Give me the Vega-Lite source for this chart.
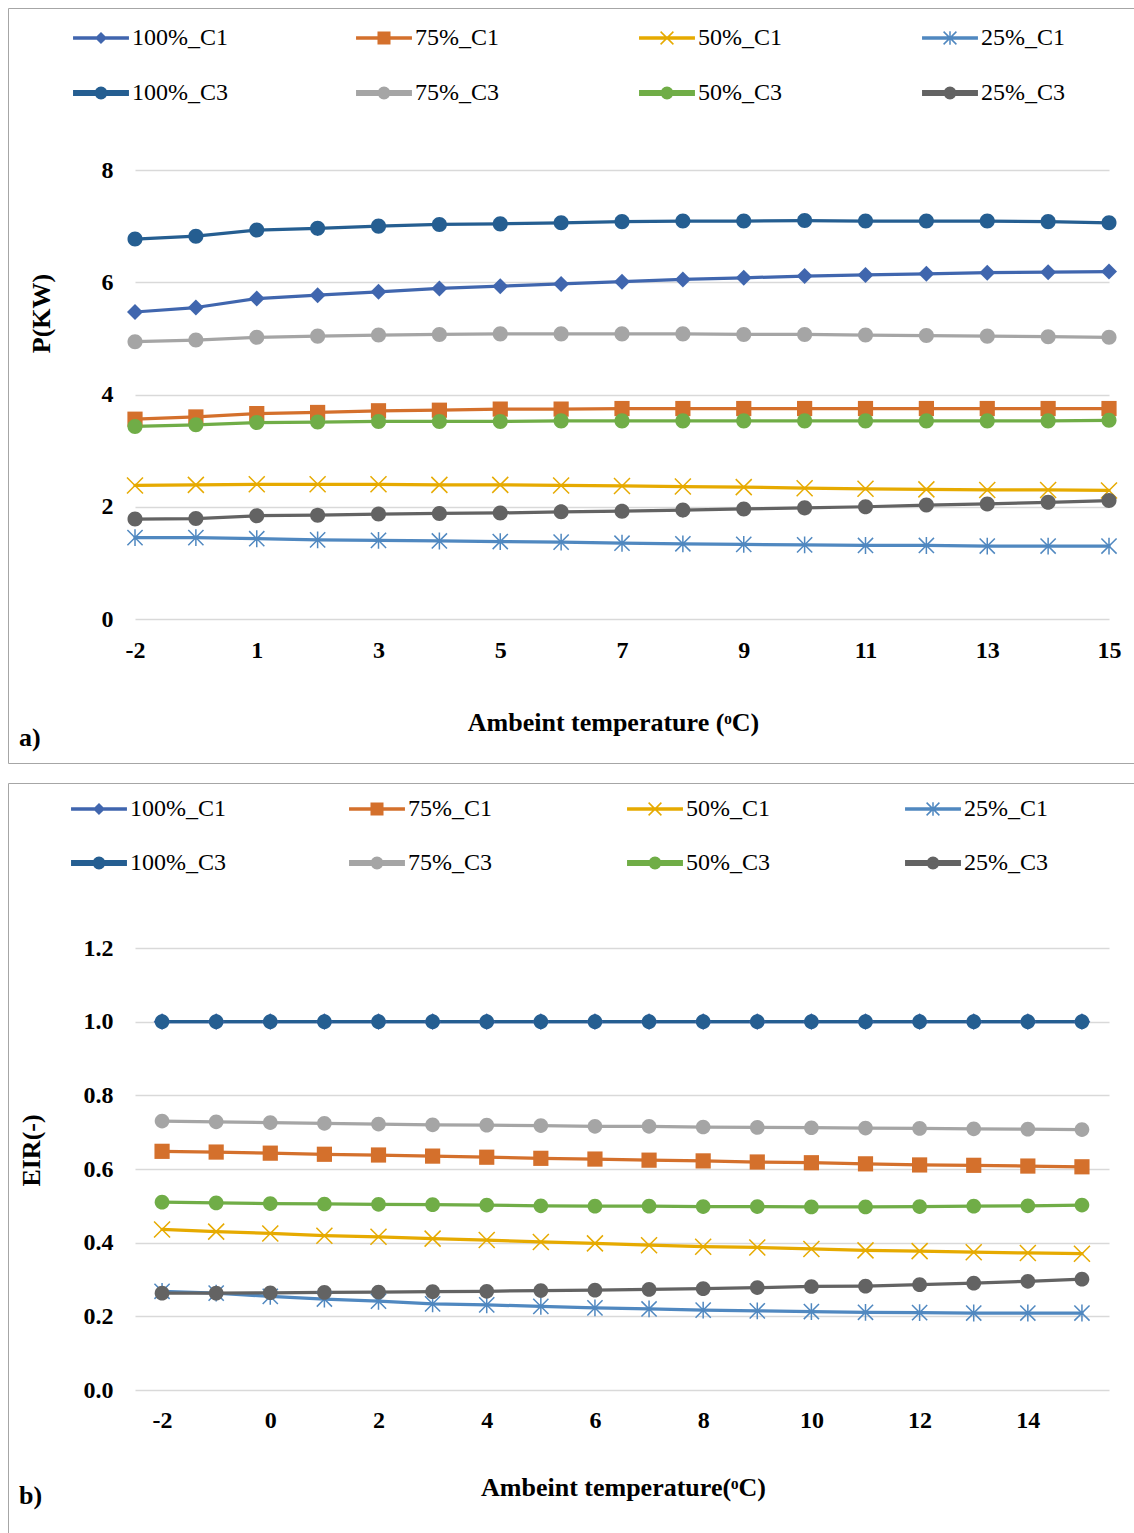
{
"$schema": "https://vega.github.io/schema/vega-lite/v6.json",
"background": "white",
"padding": {"left": 7, "top": 7, "right": 0, "bottom": 0},
"spacing": 18,
"datasets": {
"a": [
{"T":-2,"s":"100%_C1","v":5.47},{"T":-1,"s":"100%_C1","v":5.55},{"T":1,"s":"100%_C1","v":5.71},{"T":2,"s":"100%_C1","v":5.77},{"T":3,"s":"100%_C1","v":5.83},{"T":4,"s":"100%_C1","v":5.89},{"T":5,"s":"100%_C1","v":5.93},{"T":6,"s":"100%_C1","v":5.97},{"T":7,"s":"100%_C1","v":6.01},{"T":8,"s":"100%_C1","v":6.05},{"T":9,"s":"100%_C1","v":6.08},{"T":10,"s":"100%_C1","v":6.11},{"T":11,"s":"100%_C1","v":6.13},{"T":12,"s":"100%_C1","v":6.15},{"T":13,"s":"100%_C1","v":6.17},{"T":14,"s":"100%_C1","v":6.18},{"T":15,"s":"100%_C1","v":6.19},
{"T":-2,"s":"75%_C1","v":3.56},{"T":-1,"s":"75%_C1","v":3.60},{"T":1,"s":"75%_C1","v":3.66},{"T":2,"s":"75%_C1","v":3.68},{"T":3,"s":"75%_C1","v":3.71},{"T":4,"s":"75%_C1","v":3.72},{"T":5,"s":"75%_C1","v":3.74},{"T":6,"s":"75%_C1","v":3.74},{"T":7,"s":"75%_C1","v":3.75},{"T":8,"s":"75%_C1","v":3.75},{"T":9,"s":"75%_C1","v":3.75},{"T":10,"s":"75%_C1","v":3.75},{"T":11,"s":"75%_C1","v":3.75},{"T":12,"s":"75%_C1","v":3.75},{"T":13,"s":"75%_C1","v":3.75},{"T":14,"s":"75%_C1","v":3.75},{"T":15,"s":"75%_C1","v":3.75},
{"T":-2,"s":"50%_C1","v":2.38},{"T":-1,"s":"50%_C1","v":2.39},{"T":1,"s":"50%_C1","v":2.40},{"T":2,"s":"50%_C1","v":2.40},{"T":3,"s":"50%_C1","v":2.40},{"T":4,"s":"50%_C1","v":2.39},{"T":5,"s":"50%_C1","v":2.39},{"T":6,"s":"50%_C1","v":2.38},{"T":7,"s":"50%_C1","v":2.37},{"T":8,"s":"50%_C1","v":2.36},{"T":9,"s":"50%_C1","v":2.35},{"T":10,"s":"50%_C1","v":2.33},{"T":11,"s":"50%_C1","v":2.32},{"T":12,"s":"50%_C1","v":2.31},{"T":13,"s":"50%_C1","v":2.30},{"T":14,"s":"50%_C1","v":2.30},{"T":15,"s":"50%_C1","v":2.29},
{"T":-2,"s":"25%_C1","v":1.45},{"T":-1,"s":"25%_C1","v":1.45},{"T":1,"s":"25%_C1","v":1.43},{"T":2,"s":"25%_C1","v":1.41},{"T":3,"s":"25%_C1","v":1.40},{"T":4,"s":"25%_C1","v":1.39},{"T":5,"s":"25%_C1","v":1.38},{"T":6,"s":"25%_C1","v":1.37},{"T":7,"s":"25%_C1","v":1.35},{"T":8,"s":"25%_C1","v":1.34},{"T":9,"s":"25%_C1","v":1.33},{"T":10,"s":"25%_C1","v":1.32},{"T":11,"s":"25%_C1","v":1.31},{"T":12,"s":"25%_C1","v":1.31},{"T":13,"s":"25%_C1","v":1.30},{"T":14,"s":"25%_C1","v":1.30},{"T":15,"s":"25%_C1","v":1.30},
{"T":-2,"s":"100%_C3","v":6.77},{"T":-1,"s":"100%_C3","v":6.82},{"T":1,"s":"100%_C3","v":6.93},{"T":2,"s":"100%_C3","v":6.96},{"T":3,"s":"100%_C3","v":7.00},{"T":4,"s":"100%_C3","v":7.03},{"T":5,"s":"100%_C3","v":7.04},{"T":6,"s":"100%_C3","v":7.06},{"T":7,"s":"100%_C3","v":7.08},{"T":8,"s":"100%_C3","v":7.09},{"T":9,"s":"100%_C3","v":7.09},{"T":10,"s":"100%_C3","v":7.10},{"T":11,"s":"100%_C3","v":7.09},{"T":12,"s":"100%_C3","v":7.09},{"T":13,"s":"100%_C3","v":7.09},{"T":14,"s":"100%_C3","v":7.08},{"T":15,"s":"100%_C3","v":7.06},
{"T":-2,"s":"75%_C3","v":4.94},{"T":-1,"s":"75%_C3","v":4.97},{"T":1,"s":"75%_C3","v":5.02},{"T":2,"s":"75%_C3","v":5.04},{"T":3,"s":"75%_C3","v":5.06},{"T":4,"s":"75%_C3","v":5.07},{"T":5,"s":"75%_C3","v":5.08},{"T":6,"s":"75%_C3","v":5.08},{"T":7,"s":"75%_C3","v":5.08},{"T":8,"s":"75%_C3","v":5.08},{"T":9,"s":"75%_C3","v":5.07},{"T":10,"s":"75%_C3","v":5.07},{"T":11,"s":"75%_C3","v":5.06},{"T":12,"s":"75%_C3","v":5.05},{"T":13,"s":"75%_C3","v":5.04},{"T":14,"s":"75%_C3","v":5.03},{"T":15,"s":"75%_C3","v":5.02},
{"T":-2,"s":"50%_C3","v":3.43},{"T":-1,"s":"50%_C3","v":3.46},{"T":1,"s":"50%_C3","v":3.50},{"T":2,"s":"50%_C3","v":3.51},{"T":3,"s":"50%_C3","v":3.52},{"T":4,"s":"50%_C3","v":3.52},{"T":5,"s":"50%_C3","v":3.52},{"T":6,"s":"50%_C3","v":3.53},{"T":7,"s":"50%_C3","v":3.53},{"T":8,"s":"50%_C3","v":3.53},{"T":9,"s":"50%_C3","v":3.53},{"T":10,"s":"50%_C3","v":3.53},{"T":11,"s":"50%_C3","v":3.53},{"T":12,"s":"50%_C3","v":3.53},{"T":13,"s":"50%_C3","v":3.53},{"T":14,"s":"50%_C3","v":3.53},{"T":15,"s":"50%_C3","v":3.54},
{"T":-2,"s":"25%_C3","v":1.78},{"T":-1,"s":"25%_C3","v":1.79},{"T":1,"s":"25%_C3","v":1.84},{"T":2,"s":"25%_C3","v":1.85},{"T":3,"s":"25%_C3","v":1.87},{"T":4,"s":"25%_C3","v":1.88},{"T":5,"s":"25%_C3","v":1.89},{"T":6,"s":"25%_C3","v":1.91},{"T":7,"s":"25%_C3","v":1.92},{"T":8,"s":"25%_C3","v":1.94},{"T":9,"s":"25%_C3","v":1.96},{"T":10,"s":"25%_C3","v":1.98},{"T":11,"s":"25%_C3","v":2.00},{"T":12,"s":"25%_C3","v":2.03},{"T":13,"s":"25%_C3","v":2.05},{"T":14,"s":"25%_C3","v":2.08},{"T":15,"s":"25%_C3","v":2.11}
],
"b": [
{"T":-2,"s":"100%_C1","v":1.0},{"T":-1,"s":"100%_C1","v":1.0},{"T":0,"s":"100%_C1","v":1.0},{"T":1,"s":"100%_C1","v":1.0},{"T":2,"s":"100%_C1","v":1.0},{"T":3,"s":"100%_C1","v":1.0},{"T":4,"s":"100%_C1","v":1.0},{"T":5,"s":"100%_C1","v":1.0},{"T":6,"s":"100%_C1","v":1.0},{"T":7,"s":"100%_C1","v":1.0},{"T":8,"s":"100%_C1","v":1.0},{"T":9,"s":"100%_C1","v":1.0},{"T":10,"s":"100%_C1","v":1.0},{"T":11,"s":"100%_C1","v":1.0},{"T":12,"s":"100%_C1","v":1.0},{"T":13,"s":"100%_C1","v":1.0},{"T":14,"s":"100%_C1","v":1.0},{"T":15,"s":"100%_C1","v":1.0},
{"T":-2,"s":"75%_C1","v":0.648},{"T":-1,"s":"75%_C1","v":0.646},{"T":0,"s":"75%_C1","v":0.643},{"T":1,"s":"75%_C1","v":0.640},{"T":2,"s":"75%_C1","v":0.638},{"T":3,"s":"75%_C1","v":0.635},{"T":4,"s":"75%_C1","v":0.632},{"T":5,"s":"75%_C1","v":0.629},{"T":6,"s":"75%_C1","v":0.627},{"T":7,"s":"75%_C1","v":0.624},{"T":8,"s":"75%_C1","v":0.622},{"T":9,"s":"75%_C1","v":0.619},{"T":10,"s":"75%_C1","v":0.617},{"T":11,"s":"75%_C1","v":0.614},{"T":12,"s":"75%_C1","v":0.611},{"T":13,"s":"75%_C1","v":0.610},{"T":14,"s":"75%_C1","v":0.608},{"T":15,"s":"75%_C1","v":0.606},
{"T":-2,"s":"50%_C1","v":0.436},{"T":-1,"s":"50%_C1","v":0.430},{"T":0,"s":"50%_C1","v":0.425},{"T":1,"s":"50%_C1","v":0.419},{"T":2,"s":"50%_C1","v":0.416},{"T":3,"s":"50%_C1","v":0.411},{"T":4,"s":"50%_C1","v":0.407},{"T":5,"s":"50%_C1","v":0.402},{"T":6,"s":"50%_C1","v":0.398},{"T":7,"s":"50%_C1","v":0.393},{"T":8,"s":"50%_C1","v":0.389},{"T":9,"s":"50%_C1","v":0.387},{"T":10,"s":"50%_C1","v":0.383},{"T":11,"s":"50%_C1","v":0.379},{"T":12,"s":"50%_C1","v":0.377},{"T":13,"s":"50%_C1","v":0.374},{"T":14,"s":"50%_C1","v":0.372},{"T":15,"s":"50%_C1","v":0.370},
{"T":-2,"s":"25%_C1","v":0.268},{"T":-1,"s":"25%_C1","v":0.263},{"T":0,"s":"25%_C1","v":0.254},{"T":1,"s":"25%_C1","v":0.247},{"T":2,"s":"25%_C1","v":0.241},{"T":3,"s":"25%_C1","v":0.234},{"T":4,"s":"25%_C1","v":0.231},{"T":5,"s":"25%_C1","v":0.227},{"T":6,"s":"25%_C1","v":0.223},{"T":7,"s":"25%_C1","v":0.220},{"T":8,"s":"25%_C1","v":0.217},{"T":9,"s":"25%_C1","v":0.215},{"T":10,"s":"25%_C1","v":0.213},{"T":11,"s":"25%_C1","v":0.211},{"T":12,"s":"25%_C1","v":0.210},{"T":13,"s":"25%_C1","v":0.209},{"T":14,"s":"25%_C1","v":0.209},{"T":15,"s":"25%_C1","v":0.209},
{"T":-2,"s":"100%_C3","v":1.0},{"T":-1,"s":"100%_C3","v":1.0},{"T":0,"s":"100%_C3","v":1.0},{"T":1,"s":"100%_C3","v":1.0},{"T":2,"s":"100%_C3","v":1.0},{"T":3,"s":"100%_C3","v":1.0},{"T":4,"s":"100%_C3","v":1.0},{"T":5,"s":"100%_C3","v":1.0},{"T":6,"s":"100%_C3","v":1.0},{"T":7,"s":"100%_C3","v":1.0},{"T":8,"s":"100%_C3","v":1.0},{"T":9,"s":"100%_C3","v":1.0},{"T":10,"s":"100%_C3","v":1.0},{"T":11,"s":"100%_C3","v":1.0},{"T":12,"s":"100%_C3","v":1.0},{"T":13,"s":"100%_C3","v":1.0},{"T":14,"s":"100%_C3","v":1.0},{"T":15,"s":"100%_C3","v":1.0},
{"T":-2,"s":"75%_C3","v":0.730},{"T":-1,"s":"75%_C3","v":0.728},{"T":0,"s":"75%_C3","v":0.726},{"T":1,"s":"75%_C3","v":0.724},{"T":2,"s":"75%_C3","v":0.722},{"T":3,"s":"75%_C3","v":0.720},{"T":4,"s":"75%_C3","v":0.719},{"T":5,"s":"75%_C3","v":0.718},{"T":6,"s":"75%_C3","v":0.716},{"T":7,"s":"75%_C3","v":0.716},{"T":8,"s":"75%_C3","v":0.714},{"T":9,"s":"75%_C3","v":0.713},{"T":10,"s":"75%_C3","v":0.712},{"T":11,"s":"75%_C3","v":0.711},{"T":12,"s":"75%_C3","v":0.710},{"T":13,"s":"75%_C3","v":0.709},{"T":14,"s":"75%_C3","v":0.708},{"T":15,"s":"75%_C3","v":0.707},
{"T":-2,"s":"50%_C3","v":0.510},{"T":-1,"s":"50%_C3","v":0.508},{"T":0,"s":"50%_C3","v":0.506},{"T":1,"s":"50%_C3","v":0.505},{"T":2,"s":"50%_C3","v":0.504},{"T":3,"s":"50%_C3","v":0.503},{"T":4,"s":"50%_C3","v":0.502},{"T":5,"s":"50%_C3","v":0.500},{"T":6,"s":"50%_C3","v":0.499},{"T":7,"s":"50%_C3","v":0.499},{"T":8,"s":"50%_C3","v":0.498},{"T":9,"s":"50%_C3","v":0.498},{"T":10,"s":"50%_C3","v":0.497},{"T":11,"s":"50%_C3","v":0.497},{"T":12,"s":"50%_C3","v":0.498},{"T":13,"s":"50%_C3","v":0.499},{"T":14,"s":"50%_C3","v":0.500},{"T":15,"s":"50%_C3","v":0.502},
{"T":-2,"s":"25%_C3","v":0.263},{"T":-1,"s":"25%_C3","v":0.263},{"T":0,"s":"25%_C3","v":0.264},{"T":1,"s":"25%_C3","v":0.265},{"T":2,"s":"25%_C3","v":0.266},{"T":3,"s":"25%_C3","v":0.267},{"T":4,"s":"25%_C3","v":0.268},{"T":5,"s":"25%_C3","v":0.270},{"T":6,"s":"25%_C3","v":0.271},{"T":7,"s":"25%_C3","v":0.273},{"T":8,"s":"25%_C3","v":0.275},{"T":9,"s":"25%_C3","v":0.278},{"T":10,"s":"25%_C3","v":0.281},{"T":11,"s":"25%_C3","v":0.282},{"T":12,"s":"25%_C3","v":0.286},{"T":13,"s":"25%_C3","v":0.290},{"T":14,"s":"25%_C3","v":0.295},{"T":15,"s":"25%_C3","v":0.301}
]
},
"vconcat": [
{
"width": 1128, "height": 755,
"title": {"text": "a)", "orient": "bottom", "anchor": "start", "offset": -38, "dx": 11},
"data": {"name": "a"},
"resolve": {"scale": {"shape": "independent", "strokeWidth": "independent", "fill": "independent", "stroke": "independent"}},
"encoding": {
"x": {"field": "T", "type": "ordinal", "scale": {"type": "point", "padding": 0, "range": [127, 1101]},
 "axis": {"values": [-2,1,3,5,7,9,11,13,15], "labelAngle": 0, "offset": -144, "labelPadding": 19, "grid": false, "title": "Ambeint temperature (ᵒC)", "titleX": 605, "titleY": 103, "titleBaseline": "middle"}},
"y": {"field": "v", "type": "quantitative", "scale": {"domain": [0, 8], "range": [611, 162], "nice": false},
 "axis": {"values": [0,2,4,6,8], "grid": true, "offset": -127, "labelPadding": 22, "title": "P(KW)", "titleX": -94, "titleY": 305, "titleBaseline": "middle", "titleAngle": -90}},
"color": {"field": "s", "type": "nominal", "legend": null,
 "scale": {"domain": ["100%_C1","75%_C1","50%_C1","25%_C1","100%_C3","75%_C3","50%_C3","25%_C3"], "range": ["#4066AE","#D4702C","#E6AA00","#5088C0","#255E91","#A5A5A5","#70AD47","#636363"]}}
},
"layer": [
{"mark": {"type": "line", "strokeJoin": "round", "strokeCap": "round"},
 "encoding": {"strokeWidth": {"field": "s", "type": "nominal", "legend": null, "scale": {"domain": ["100%_C1","75%_C1","50%_C1","25%_C1","100%_C3","75%_C3","50%_C3","25%_C3"], "range": [3.25,3.25,3.25,3.25,5.5,5.5,5.5,5.5]}}}},
{"transform": [{"filter": "datum.s == '50%_C1' || datum.s == '25%_C1'"}],
 "mark": {"type": "point", "filled": false, "opacity": 1, "size": 256, "strokeWidth": 1.5},
 "encoding": {"shape": {"field": "s", "type": "nominal", "legend": null, "scale": {"domain": ["100%_C1","75%_C1","50%_C1","25%_C1","100%_C3","75%_C3","50%_C3","25%_C3"], "range": ["M0,-0.95L0.95,0L0,0.95L-0.95,0Z","M-0.95,-0.95H0.95V0.95H-0.95Z","M-1,-1L1,1M-1,1L1,-1","M-0.95,-0.95L0.95,0.95M-0.95,0.95L0.95,-0.95M0,-1.05V1.05","M0.94,0A0.94,0.94,0,1,1,-0.94,0A0.94,0.94,0,1,1,0.94,0Z","M0.94,0A0.94,0.94,0,1,1,-0.94,0A0.94,0.94,0,1,1,0.94,0Z","M0.94,0A0.94,0.94,0,1,1,-0.94,0A0.94,0.94,0,1,1,0.94,0Z","M0.94,0A0.94,0.94,0,1,1,-0.94,0A0.94,0.94,0,1,1,0.94,0Z"]}}}},
{"transform": [{"filter": "datum.s != '50%_C1' && datum.s != '25%_C1'"}],
 "mark": {"type": "point", "filled": true, "opacity": 1, "size": 256},
 "encoding": {"shape": {"field": "s", "type": "nominal", "legend": null, "scale": {"domain": ["100%_C1","75%_C1","50%_C1","25%_C1","100%_C3","75%_C3","50%_C3","25%_C3"], "range": ["M0,-1L1,0L0,1L-1,0Z","M-0.95,-0.95H0.95V0.95H-0.95Z","M-1,-1L1,1M-1,1L1,-1","M-0.95,-0.95L0.95,0.95M-0.95,0.95L0.95,-0.95M0,-1.05V1.05","M0.94,0A0.94,0.94,0,1,1,-0.94,0A0.94,0.94,0,1,1,0.94,0Z","M0.94,0A0.94,0.94,0,1,1,-0.94,0A0.94,0.94,0,1,1,0.94,0Z","M0.94,0A0.94,0.94,0,1,1,-0.94,0A0.94,0.94,0,1,1,0.94,0Z","M0.94,0A0.94,0.94,0,1,1,-0.94,0A0.94,0.94,0,1,1,0.94,0Z"]}}}},
{"transform": [{"filter": "false"}],
 "mark": {"type": "point", "filled": true, "opacity": 1},
 "encoding": {
  "fill": {"field": "s", "type": "nominal", "scale": {"domain": ["100%_C1","75%_C1","50%_C1","25%_C1","100%_C3","75%_C3","50%_C3","25%_C3"], "range": ["#4066AE","#D4702C","#E6AA00","#5088C0","#255E91","#A5A5A5","#70AD47","#636363"]},
   "legend": {"orient": "none", "legendX": 81, "legendY": 18, "columns": 4, "direction": "horizontal", "title": null, "columnPadding": 125, "rowPadding": 31, "labelOffset": 19, "gridAlign": "all"}},
  "stroke": {"field": "s", "type": "nominal", "scale": {"domain": ["100%_C1","75%_C1","50%_C1","25%_C1","100%_C3","75%_C3","50%_C3","25%_C3"], "range": ["#4066AE","#D4702C","#E6AA00","#5088C0","#255E91","#A5A5A5","#70AD47","#636363"]},
   "legend": {"orient": "none", "legendX": 81, "legendY": 18, "columns": 4, "direction": "horizontal", "title": null, "columnPadding": 125, "rowPadding": 31, "labelOffset": 19, "gridAlign": "all"}},
  "shape": {"field": "s", "type": "nominal", "scale": {"domain": ["100%_C1","75%_C1","50%_C1","25%_C1","100%_C3","75%_C3","50%_C3","25%_C3"], "range": ["M-3.4,-0.125H3.4V0.125H-3.4ZM0,-0.62L0.62,0L0,0.62L-0.62,0Z","M-3.4,-0.125H3.4V0.125H-3.4ZM-0.72,-0.72H0.72V0.72H-0.72Z","M-3.4,-0.125H3.4V0.125H-3.4ZM-0.8,-0.8L0.8,0.8M-0.8,0.8L0.8,-0.8","M-3.4,-0.125H3.4V0.125H-3.4ZM-0.8,-0.8L0.8,0.8M-0.8,0.8L0.8,-0.8M0,-0.85V0.85","M-3.4,-0.28H3.4V0.28H-3.4ZM0.72,0A0.72,0.72,0,1,1,-0.72,0A0.72,0.72,0,1,1,0.72,0Z","M-3.4,-0.28H3.4V0.28H-3.4ZM0.72,0A0.72,0.72,0,1,1,-0.72,0A0.72,0.72,0,1,1,0.72,0Z","M-3.4,-0.28H3.4V0.28H-3.4ZM0.72,0A0.72,0.72,0,1,1,-0.72,0A0.72,0.72,0,1,1,0.72,0Z","M-3.4,-0.28H3.4V0.28H-3.4ZM0.72,0A0.72,0.72,0,1,1,-0.72,0A0.72,0.72,0,1,1,0.72,0Z"]},
   "legend": {"orient": "none", "legendX": 81, "legendY": 18, "columns": 4, "direction": "horizontal", "title": null, "columnPadding": 125, "rowPadding": 31, "labelOffset": 19, "gridAlign": "all"}}
 }}
]
},
{
"width": 1128, "height": 752,
"title": {"text": "b)", "orient": "bottom", "anchor": "start", "offset": -52, "dx": 11},
"data": {"name": "b"},
"resolve": {"scale": {"shape": "independent", "strokeWidth": "independent", "fill": "independent", "stroke": "independent"}},
"encoding": {
"x": {"field": "T", "type": "ordinal", "scale": {"type": "point", "padding": 0.5, "range": [127, 1101]},
 "axis": {"values": [-2,0,2,4,6,8,10,12,14], "labelAngle": 0, "offset": -145, "labelPadding": 18, "grid": false, "title": "Ambeint temperature(ᵒC)", "titleX": 615, "titleY": 97, "titleBaseline": "middle"}},
"y": {"field": "v", "type": "quantitative", "scale": {"domain": [0, 1.2], "range": [607, 165], "nice": false},
 "axis": {"values": [0,0.2,0.4,0.6,0.8,1.0,1.2], "format": ".1f", "grid": true, "offset": -127, "labelPadding": 22, "title": "EIR(-)", "titleX": -104, "titleY": 367, "titleBaseline": "middle", "titleAngle": -90}},
"color": {"field": "s", "type": "nominal", "legend": null,
 "scale": {"domain": ["100%_C1","75%_C1","50%_C1","25%_C1","100%_C3","75%_C3","50%_C3","25%_C3"], "range": ["#4066AE","#D4702C","#E6AA00","#5088C0","#255E91","#A5A5A5","#70AD47","#636363"]}}
},
"layer": [
{"mark": {"type": "line", "strokeJoin": "round", "strokeCap": "round"},
 "encoding": {"strokeWidth": {"field": "s", "type": "nominal", "legend": null, "scale": {"domain": ["100%_C1","75%_C1","50%_C1","25%_C1","100%_C3","75%_C3","50%_C3","25%_C3"], "range": [3.25,3.25,3.25,3.25,5.5,5.5,5.5,5.5]}}}},
{"transform": [{"filter": "datum.s == '50%_C1' || datum.s == '25%_C1'"}],
 "mark": {"type": "point", "filled": false, "opacity": 1, "size": 256, "strokeWidth": 1.5},
 "encoding": {"shape": {"field": "s", "type": "nominal", "legend": null, "scale": {"domain": ["100%_C1","75%_C1","50%_C1","25%_C1","100%_C3","75%_C3","50%_C3","25%_C3"], "range": ["M0,-0.95L0.95,0L0,0.95L-0.95,0Z","M-0.95,-0.95H0.95V0.95H-0.95Z","M-1,-1L1,1M-1,1L1,-1","M-0.95,-0.95L0.95,0.95M-0.95,0.95L0.95,-0.95M0,-1.05V1.05","M0.92,0A0.92,0.92,0,1,1,-0.92,0A0.92,0.92,0,1,1,0.92,0Z","M0.92,0A0.92,0.92,0,1,1,-0.92,0A0.92,0.92,0,1,1,0.92,0Z","M0.92,0A0.92,0.92,0,1,1,-0.92,0A0.92,0.92,0,1,1,0.92,0Z","M0.92,0A0.92,0.92,0,1,1,-0.92,0A0.92,0.92,0,1,1,0.92,0Z"]}}}},
{"transform": [{"filter": "datum.s != '50%_C1' && datum.s != '25%_C1'"}],
 "mark": {"type": "point", "filled": true, "opacity": 1, "size": 256},
 "encoding": {"shape": {"field": "s", "type": "nominal", "legend": null, "scale": {"domain": ["100%_C1","75%_C1","50%_C1","25%_C1","100%_C3","75%_C3","50%_C3","25%_C3"], "range": ["M0,-1.05L1.05,0L0,1.05L-1.05,0Z","M-0.95,-0.95H0.95V0.95H-0.95Z","M-1,-1L1,1M-1,1L1,-1","M-0.95,-0.95L0.95,0.95M-0.95,0.95L0.95,-0.95M0,-1.05V1.05","M0.92,0A0.92,0.92,0,1,1,-0.92,0A0.92,0.92,0,1,1,0.92,0Z","M0.92,0A0.92,0.92,0,1,1,-0.92,0A0.92,0.92,0,1,1,0.92,0Z","M0.92,0A0.92,0.92,0,1,1,-0.92,0A0.92,0.92,0,1,1,0.92,0Z","M0.92,0A0.92,0.92,0,1,1,-0.92,0A0.92,0.92,0,1,1,0.92,0Z"]}}}},
{"transform": [{"filter": "false"}],
 "mark": {"type": "point", "filled": true, "opacity": 1},
 "encoding": {
  "fill": {"field": "s", "type": "nominal", "scale": {"domain": ["100%_C1","75%_C1","50%_C1","25%_C1","100%_C3","75%_C3","50%_C3","25%_C3"], "range": ["#4066AE","#D4702C","#E6AA00","#5088C0","#255E91","#A5A5A5","#70AD47","#636363"]},
   "legend": {"orient": "none", "legendX": 79, "legendY": 14, "columns": 4, "direction": "horizontal", "title": null, "columnPadding": 120, "rowPadding": 30, "labelOffset": 19, "gridAlign": "all"}},
  "stroke": {"field": "s", "type": "nominal", "scale": {"domain": ["100%_C1","75%_C1","50%_C1","25%_C1","100%_C3","75%_C3","50%_C3","25%_C3"], "range": ["#4066AE","#D4702C","#E6AA00","#5088C0","#255E91","#A5A5A5","#70AD47","#636363"]},
   "legend": {"orient": "none", "legendX": 79, "legendY": 14, "columns": 4, "direction": "horizontal", "title": null, "columnPadding": 120, "rowPadding": 30, "labelOffset": 19, "gridAlign": "all"}},
  "shape": {"field": "s", "type": "nominal", "scale": {"domain": ["100%_C1","75%_C1","50%_C1","25%_C1","100%_C3","75%_C3","50%_C3","25%_C3"], "range": ["M-3.4,-0.125H3.4V0.125H-3.4ZM0,-0.62L0.62,0L0,0.62L-0.62,0Z","M-3.4,-0.125H3.4V0.125H-3.4ZM-0.72,-0.72H0.72V0.72H-0.72Z","M-3.4,-0.125H3.4V0.125H-3.4ZM-0.8,-0.8L0.8,0.8M-0.8,0.8L0.8,-0.8","M-3.4,-0.125H3.4V0.125H-3.4ZM-0.8,-0.8L0.8,0.8M-0.8,0.8L0.8,-0.8M0,-0.85V0.85","M-3.4,-0.28H3.4V0.28H-3.4ZM0.72,0A0.72,0.72,0,1,1,-0.72,0A0.72,0.72,0,1,1,0.72,0Z","M-3.4,-0.28H3.4V0.28H-3.4ZM0.72,0A0.72,0.72,0,1,1,-0.72,0A0.72,0.72,0,1,1,0.72,0Z","M-3.4,-0.28H3.4V0.28H-3.4ZM0.72,0A0.72,0.72,0,1,1,-0.72,0A0.72,0.72,0,1,1,0.72,0Z","M-3.4,-0.28H3.4V0.28H-3.4ZM0.72,0A0.72,0.72,0,1,1,-0.72,0A0.72,0.72,0,1,1,0.72,0Z"]},
   "legend": {"orient": "none", "legendX": 79, "legendY": 14, "columns": 4, "direction": "horizontal", "title": null, "columnPadding": 120, "rowPadding": 30, "labelOffset": 19, "gridAlign": "all"}}
 }}
]
}
],
"config": {
"font": "Liberation Serif",
"view": {"stroke": "#a6a6a6", "strokeWidth": 1},
"axis": {"labelFont": "Liberation Serif", "labelFontSize": 24, "labelFontWeight": "bold", "labelColor": "#000000", "titleFont": "Liberation Serif", "titleFontSize": 26, "titleFontWeight": "bold", "titleColor": "#000000", "domain": false, "ticks": false, "tickSize": 0, "gridColor": "#d9d9d9", "gridWidth": 1.5},
"legend": {"labelFont": "Liberation Serif", "labelFontSize": 24, "labelColor": "#000000", "symbolSize": 256, "symbolStrokeWidth": 1.5, "padding": 0},
"title": {"font": "Liberation Serif", "fontSize": 26, "fontWeight": "bold", "color": "#000000"}
}
}
